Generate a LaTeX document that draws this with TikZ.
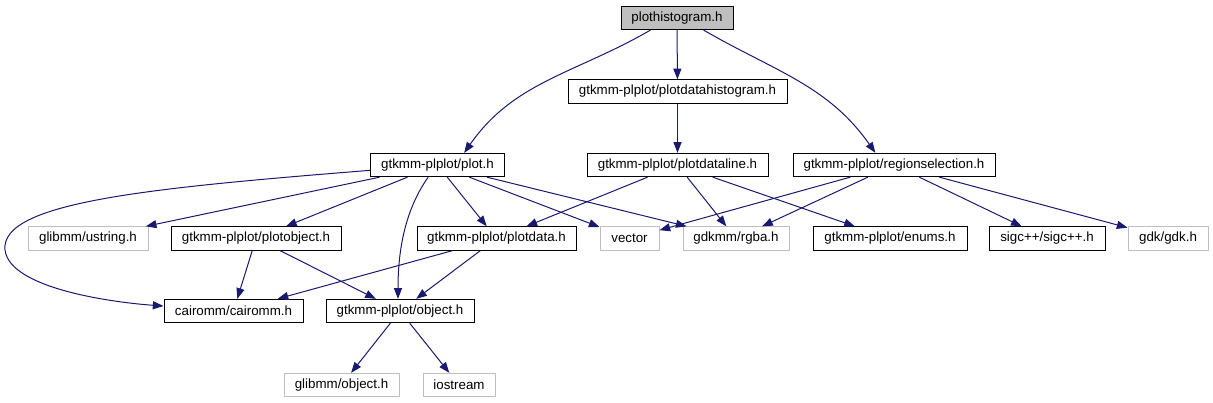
\documentclass[tikz,border=0pt]{standalone}
\usepackage{fontspec}
\setmainfont{Liberation Sans}
\usetikzlibrary{arrows.meta}
\definecolor{edgeblue}{HTML}{191970}
\definecolor{sysgray}{HTML}{BFBFBF}
\begin{document}
\begin{tikzpicture}[x=0.75pt, y=-0.75pt, >={Triangle[length=8pt,width=6pt]},
	file/.style={draw=black, line width=0.75pt, fill=white, inner sep=0pt,
		minimum height=17.5pt, font=\fontsize{10}{12}\selectfont},
	sysfile/.style={file, draw=sysgray},
	mainfile/.style={file, fill=sysgray},
	dep/.style={->, draw=edgeblue, line width=0.75pt}]
	
	\useasboundingbox (0,0) rectangle (1213,403);
	
	% top rows
	\node[mainfile, minimum width=112*0.75pt] (hist) at (677,18) {plothistogram.h};
	\node[file, minimum width=219*0.75pt] (pdh) at (677.5,91.5) {gtkmm-plplot/plotdatahistogram.h};
	\node[file, minimum width=134*0.75pt] (plot) at (437.5,165) {gtkmm-plplot/plot.h};
	\node[file, minimum width=181*0.75pt] (pdl) at (677.5,165) {gtkmm-plplot/plotdataline.h};
	\node[file, minimum width=202*0.75pt] (reg) at (894,165) {gtkmm-plplot/regionselection.h};
	
	% middle row
	\node[sysfile, minimum width=120*0.75pt] (ustr) at (88,238.5) {glibmm/ustring.h};
	\node[file, minimum width=170*0.75pt] (pobj) at (256,238.5) {gtkmm-plplot/plotobject.h};
	\node[file, minimum width=159*0.75pt] (pdata) at (496.5,238.5) {gtkmm-plplot/plotdata.h};
	\node[sysfile, minimum width=59*0.75pt] (vec) at (629.5,238.5) {vector};
	\node[sysfile, minimum width=106*0.75pt] (rgba) at (736,238.5) {gdkmm/rgba.h};
	\node[file, minimum width=154*0.75pt] (enums) at (890,238.5) {gtkmm-plplot/enums.h};
	\node[file, minimum width=116*0.75pt] (sigc) at (1047,238.5) {sigc++/sigc++.h};
	\node[sysfile, minimum width=80*0.75pt] (gdk) at (1168,238.5) {gdk/gdk.h};
	
	% bottom rows
	\node[file, minimum width=139*0.75pt] (cairo) at (233.5,311) {cairomm/cairomm.h};
	\node[file, minimum width=148*0.75pt] (obj) at (400,311) {gtkmm-plplot/object.h};
	\node[sysfile, minimum width=115*0.75pt] (gobj) at (341.5,385) {glibmm/object.h};
	\node[sysfile, minimum width=72*0.75pt] (ios) at (459,385) {iostream};
	
	% includes of plothistogram.h
	\draw[dep] ([xshift=-20pt]hist.south) to[out=-150,in=55] ([xshift=20pt]plot.north);
	\draw[dep] (hist) -- (pdh);
	\draw[dep] ([xshift=20pt]hist.south) to[out=-30,in=125] ([xshift=-14pt]reg.north);
	\draw[dep] (pdh) -- (pdl);
	
	% includes of plot.h
	\draw[dep] ([yshift=-4pt]plot.west) .. controls (150,188) and (0,202) .. (5,250)
		.. controls (10,290) and (120,303) .. ([yshift=3.75pt]cairo.west);
	\draw[dep] (plot) -- (ustr);
	\draw[dep] (plot) -- (pobj);
	\draw[dep] ([xshift=-7pt]plot.south) .. controls (405,210) and (398,250) .. ([xshift=-1.5pt]obj.north);
	\draw[dep] (plot) -- (pdata);
	\draw[dep] (plot) -- (vec);
	\draw[dep] (plot) -- (rgba);
	
	% plotdataline.h and regionselection.h
	\draw[dep] (pdl) -- (pdata);
	\draw[dep] (pdl) -- (rgba);
	\draw[dep] (pdl) -- (enums);
	\draw[dep] (reg) -- (vec);
	\draw[dep] (reg) -- (rgba);
	\draw[dep] (reg) -- (sigc);
	\draw[dep] (reg) -- (gdk);
	
	% lower levels
	\draw[dep] (pobj) -- (cairo);
	\draw[dep] (pobj) -- (obj);
	\draw[dep] (pdata) -- (cairo);
	\draw[dep] (pdata) -- (obj);
	\draw[dep] (obj) -- (gobj);
	\draw[dep] (obj) -- (ios);
	
\end{tikzpicture}
\end{document}
